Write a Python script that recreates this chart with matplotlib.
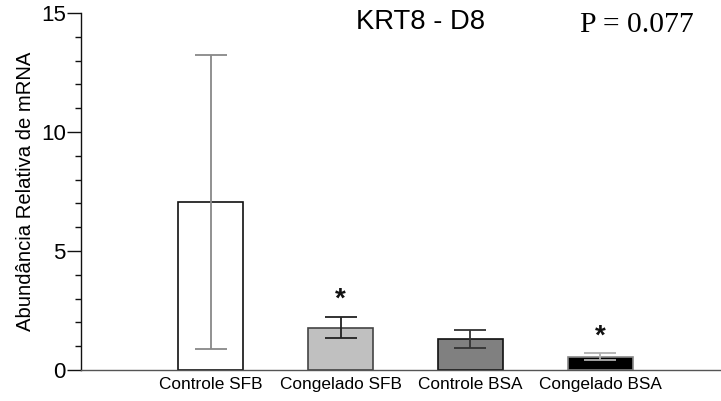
import matplotlib
matplotlib.use("Agg")
import matplotlib.pyplot as plt
from matplotlib.ticker import MultipleLocator

categories = ["Controle SFB", "Congelado SFB", "Controle BSA", "Congelado BSA"]
means = [7.07, 1.78, 1.30, 0.55]
errors = [6.17, 0.45, 0.38, 0.15]
signif = ["", "*", "", "*"]

bar_colors = ["#ffffff", "#c0c0c0", "#808080", "#000000"]
edge_colors = ["#111111", "#444444", "#111111", "#888888"]
err_colors = ["#888888", "#222222", "#333333", "#b0b0b0"]

plt.rcParams["font.family"] = ["Liberation Sans", "DejaVu Sans"]

fig = plt.figure(figsize=(7.21, 4.01), dpi=100)
ax = fig.add_axes([0.1123, 0.0773, 0.8877, 0.8903])

x = list(range(1, len(categories) + 1))
for xi, m, e, fc, ec, erc, s in zip(x, means, errors, bar_colors, edge_colors, err_colors, signif):
    ax.bar(xi, m, width=0.5, color=fc, edgecolor=ec, linewidth=1.2, zorder=2)
    ax.errorbar(xi, m, yerr=e, fmt="none", ecolor=erc, elinewidth=1.3,
                capsize=11.5, capthick=1.3, zorder=3)
    if s:
        ax.text(xi, m + e + 0.72, s, ha="center", va="center",
                fontsize=20, fontweight="bold", color="#111111")

ax.set_xlim(0, 4.93)
ax.set_ylim(0, 15)
ax.yaxis.set_major_locator(MultipleLocator(5))
ax.yaxis.set_minor_locator(MultipleLocator(1))
ax.tick_params(axis="y", which="major", direction="out", length=10, width=1,
               labelsize=16, pad=1, color="#111111")
ax.tick_params(axis="y", which="minor", direction="out", length=4.3, width=1,
               color="#111111")
ax.set_xticks(x)
ax.set_xticklabels(categories, fontsize=12.4)
ax.tick_params(axis="x", length=0, pad=5)

for sp in ["top", "right"]:
    ax.spines[sp].set_visible(False)
ax.spines["left"].set_color("#111111")
ax.spines["bottom"].set_color("#555555")
ax.spines["left"].set_linewidth(1)
ax.spines["bottom"].set_linewidth(1)

ax.set_ylabel("Abundância Relativa de mRNA", fontsize=14.6, labelpad=4)

fig.text(421 / 721, 1 - 22 / 401, "KRT8 - D8", ha="center", va="center", fontsize=19.7)
fig.text(637 / 721, 1 - 25 / 401, "P = 0.077", ha="center", va="center",
         fontsize=21.3, family=["Liberation Serif", "DejaVu Serif"])

fig.savefig("out.png", dpi=100)
